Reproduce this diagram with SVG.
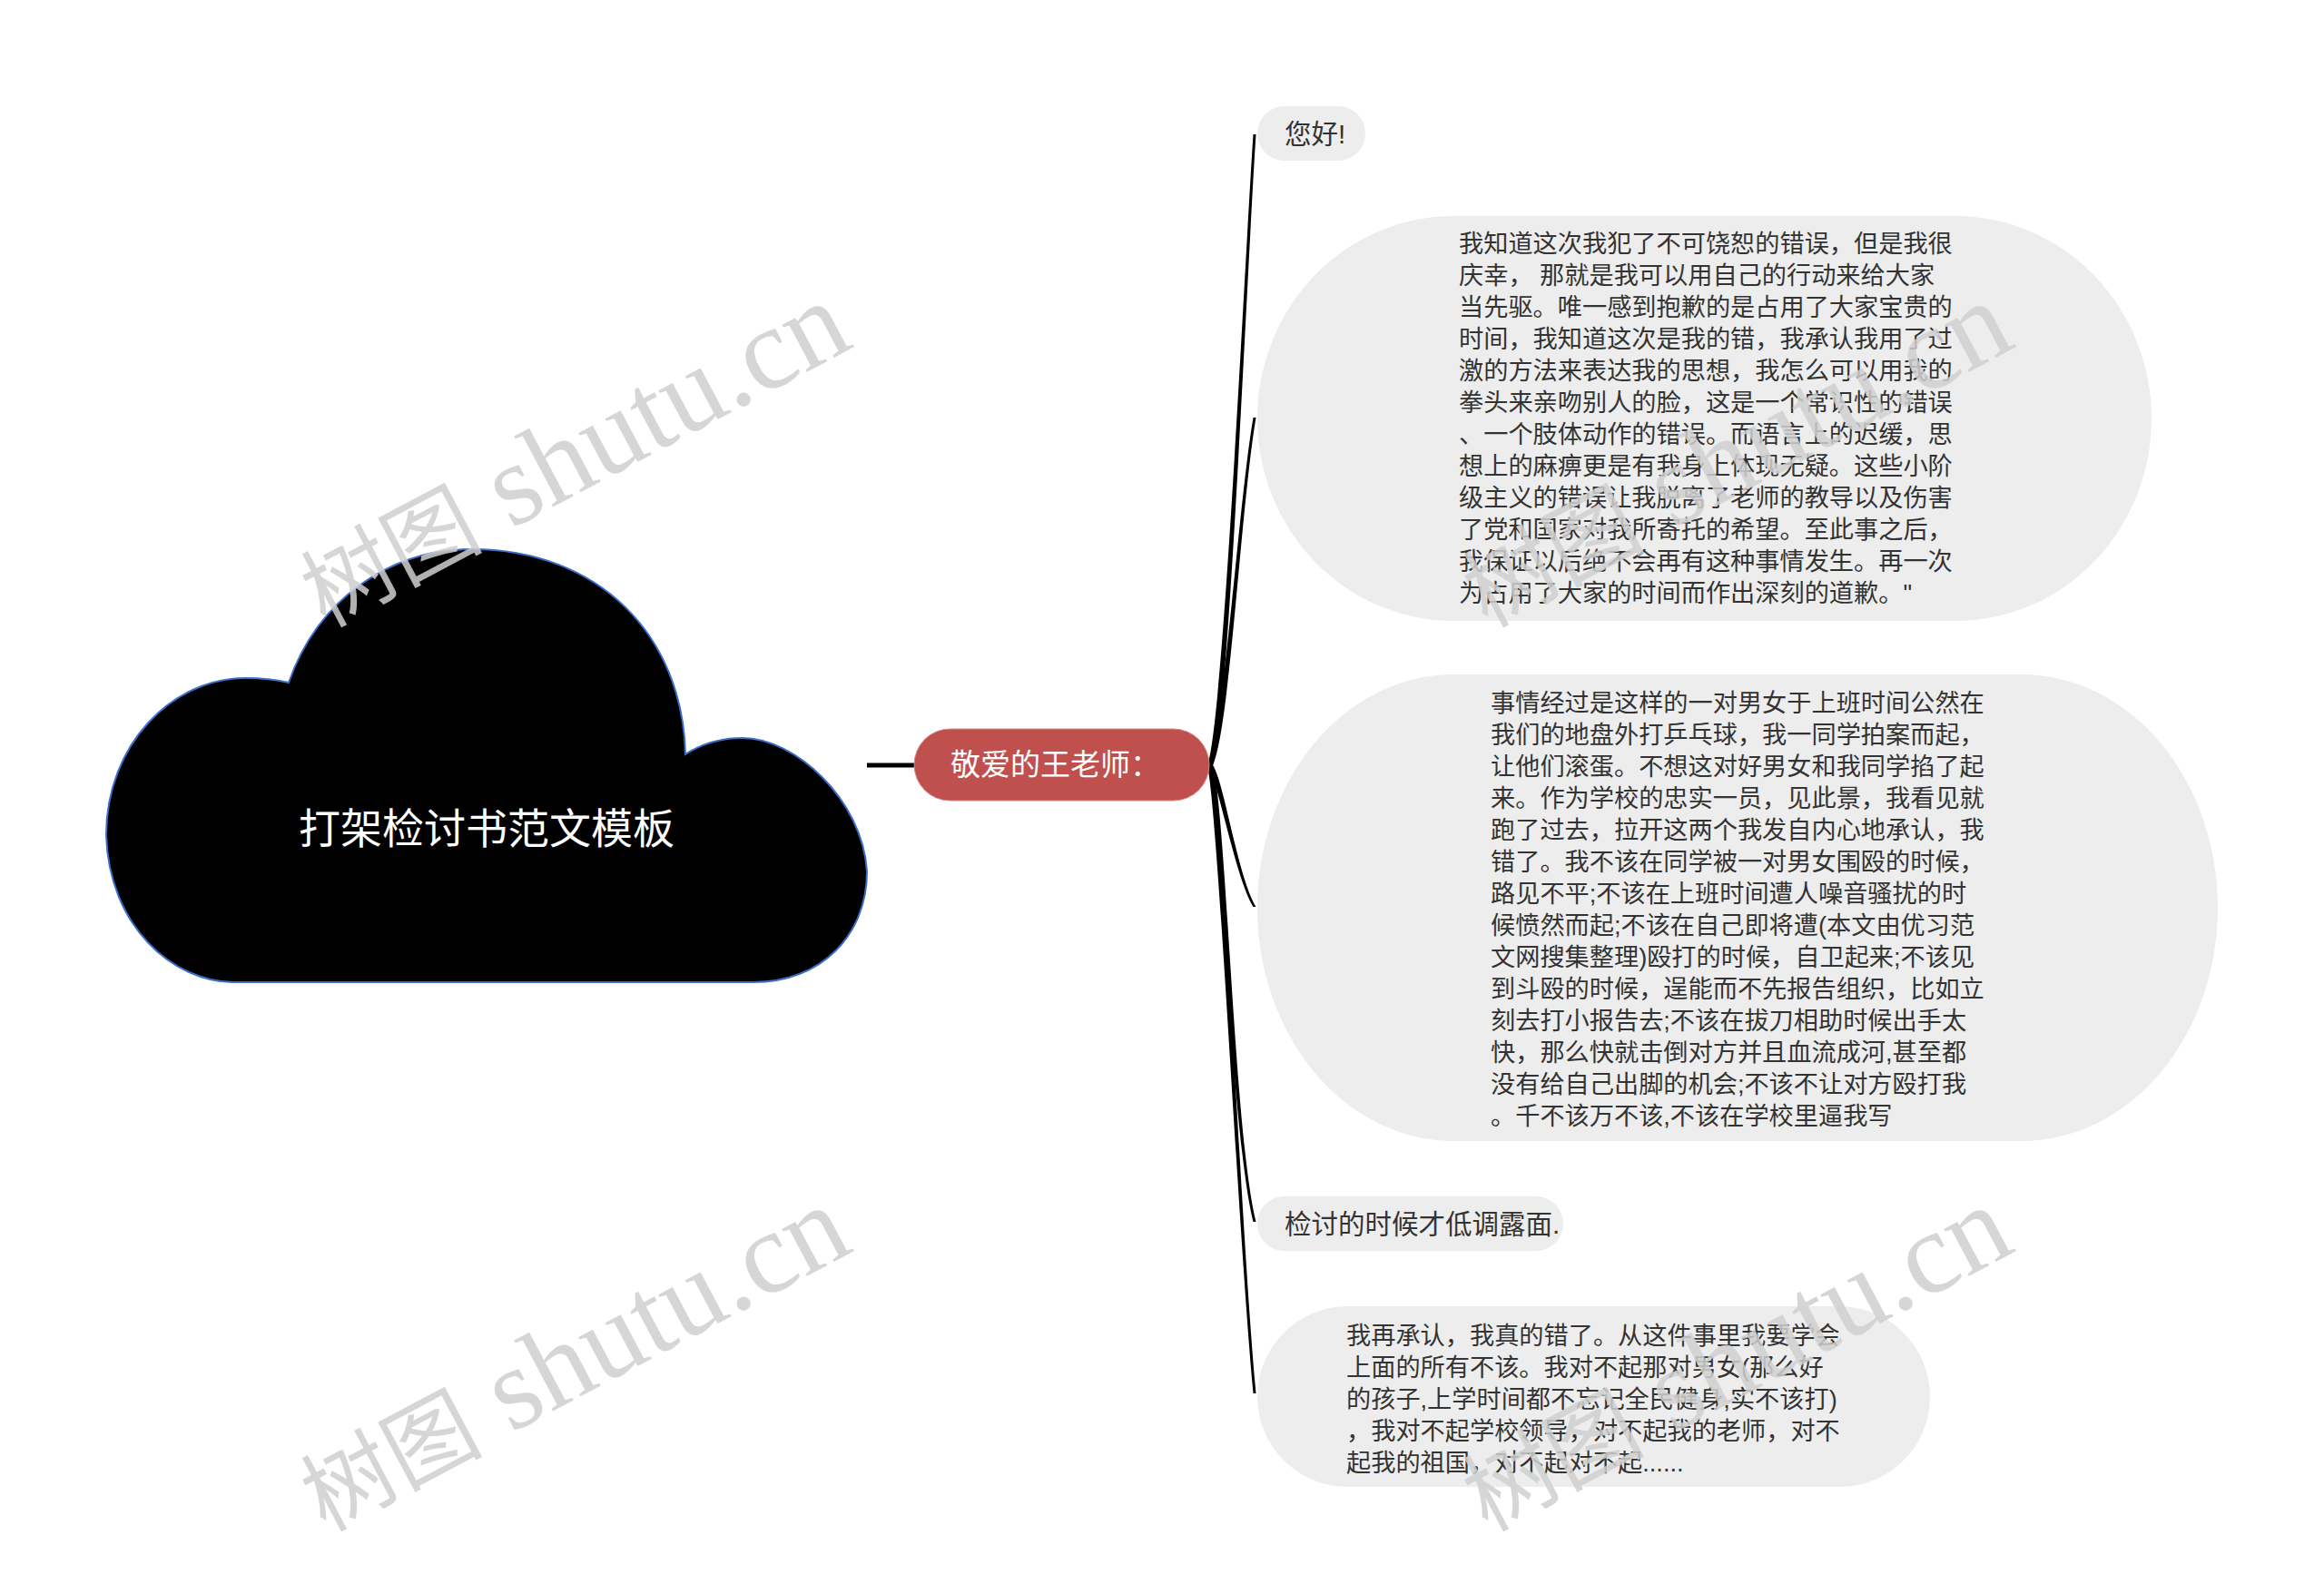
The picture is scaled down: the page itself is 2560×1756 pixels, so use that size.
<svg xmlns="http://www.w3.org/2000/svg" width="2560" height="1756" viewBox="0 0 2560 1756">
<style>
.bg{fill:#ffffff}
.bubble{fill:#ededed}
.txt{font-family:'Liberation Sans','Noto Sans CJK SC',sans-serif;fill:#333333}
.long{font-size:27.2px}
.short{font-size:29.5px}
.conn{fill:#000000}
.wm{font-family:'Liberation Serif','Noto Sans CJK SC',serif;font-size:128px;fill:#d0d0d0;opacity:0.85}
.wmcjk{font-size:100px}
</style>
<rect class="bg" x="0" y="0" width="2560" height="1756"/>
<g id="connectors">
  <path d="M955 843 L1008 843" stroke="#000" stroke-width="5" fill="none"/>
  <path class="conn" d="M1330 843 C1347 800 1370.5 300 1380.5 148 L1383.5 148 C1373.5 300 1353 800 1336 843 Z"/>
  <path class="conn" d="M1330 843 C1349 800 1363.5 560 1380.5 460 L1383.5 460 C1366.5 560 1355 800 1336 843 Z"/>
  <path class="conn" d="M1330 843 C1342 860 1360.5 965 1380.5 999 L1383.5 999 C1363.5 965 1348 860 1336 843 Z"/>
  <path class="conn" d="M1330 843 C1345 900 1356.5 1250 1380.5 1346 L1383.5 1346 C1359.5 1250 1351 900 1336 843 Z"/>
  <path class="conn" d="M1330 843 C1342 900 1363.5 1350 1380.5 1535 L1383.5 1535 C1366.5 1350 1348 900 1336 843 Z"/>
</g>
<g id="root">
  <path d="M258 1082 C190 1082 120 1020 117 920 C117 820 190 747 270 747 C290 747 305 749 318 752 C350 660 430 605 519 605 C660 605 752 700 755 831 C775 818 795 813 818 813 C875 813 950 880 955 960 C955 1030 905 1082 830 1082 Z" fill="#000000" stroke="#3c6ec8" stroke-width="2"/>
  <text x="536" y="929" text-anchor="middle" font-family="'Liberation Sans','Noto Sans CJK SC',sans-serif" font-size="46" fill="#ffffff">打架检讨书范文模板</text>
</g>
<g id="main-topic">
  <rect x="1007" y="803" width="325" height="79" rx="39.5" ry="39.5" fill="#c0504d" stroke="#d38a88" stroke-width="1"/>
  <text x="1047" y="854" font-family="'Liberation Sans','Noto Sans CJK SC',sans-serif" font-size="33" fill="#ffffff">敬爱的王老师：</text>
</g>
<g id="node-hello">
  <rect class="bubble" x="1385" y="117" width="119" height="60" rx="30" ry="30"/>
  <text class="txt short" x="1415" y="158">您好!</text>
</g>
<g id="node-apology">
  <rect class="bubble" x="1385" y="238" width="985" height="446" rx="216" ry="223"/>
  <text class="txt long">
    <tspan x="1607" y="278">我知道这次我犯了不可饶恕的错误，但是我很</tspan>
    <tspan x="1607" y="313">庆幸， 那就是我可以用自己的行动来给大家</tspan>
    <tspan x="1607" y="348">当先驱。唯一感到抱歉的是占用了大家宝贵的</tspan>
    <tspan x="1607" y="383">时间，我知道这次是我的错，我承认我用了过</tspan>
    <tspan x="1607" y="418">激的方法来表达我的思想，我怎么可以用我的</tspan>
    <tspan x="1607" y="453">拳头来亲吻别人的脸，这是一个常识性的错误</tspan>
    <tspan x="1607" y="488">、一个肢体动作的错误。而语言上的迟缓，思</tspan>
    <tspan x="1607" y="523">想上的麻痹更是有我身上体现无疑。这些小阶</tspan>
    <tspan x="1607" y="558">级主义的错误让我脱离了老师的教导以及伤害</tspan>
    <tspan x="1607" y="593">了党和国家对我所寄托的希望。至此事之后，</tspan>
    <tspan x="1607" y="628">我保证以后绝不会再有这种事情发生。再一次</tspan>
    <tspan x="1607" y="663">为占用了大家的时间而作出深刻的道歉。"</tspan>
  </text>
</g>
<g id="node-story">
  <rect class="bubble" x="1385" y="743" width="1058" height="514" rx="216" ry="257"/>
  <text class="txt long">
    <tspan x="1642" y="784">事情经过是这样的一对男女于上班时间公然在</tspan>
    <tspan x="1642" y="819">我们的地盘外打乒乓球，我一同学拍案而起，</tspan>
    <tspan x="1642" y="854">让他们滚蛋。不想这对好男女和我同学掐了起</tspan>
    <tspan x="1642" y="889">来。作为学校的忠实一员，见此景，我看见就</tspan>
    <tspan x="1642" y="924">跑了过去，拉开这两个我发自内心地承认，我</tspan>
    <tspan x="1642" y="959">错了。我不该在同学被一对男女围殴的时候，</tspan>
    <tspan x="1642" y="994">路见不平;不该在上班时间遭人噪音骚扰的时</tspan>
    <tspan x="1642" y="1029">候愤然而起;不该在自己即将遭(本文由优习范</tspan>
    <tspan x="1642" y="1064">文网搜集整理)殴打的时候，自卫起来;不该见</tspan>
    <tspan x="1642" y="1099">到斗殴的时候，逞能而不先报告组织，比如立</tspan>
    <tspan x="1642" y="1134">刻去打小报告去;不该在拔刀相助时候出手太</tspan>
    <tspan x="1642" y="1169">快，那么快就击倒对方并且血流成河,甚至都</tspan>
    <tspan x="1642" y="1204">没有给自己出脚的机会;不该不让对方殴打我</tspan>
    <tspan x="1642" y="1239">。千不该万不该,不该在学校里逼我写</tspan>
  </text>
</g>
<g id="node-lowkey">
  <rect class="bubble" x="1385" y="1318" width="337" height="60" rx="30" ry="30"/>
  <text class="txt short" x="1415" y="1359">检讨的时候才低调露面.</text>
</g>
<g id="node-sorry">
  <rect class="bubble" x="1385" y="1439" width="741" height="199" rx="99.5" ry="99.5"/>
  <text class="txt long">
    <tspan x="1483" y="1481">我再承认，我真的错了。从这件事里我要学会</tspan>
    <tspan x="1483" y="1516">上面的所有不该。我对不起那对男女(那么好</tspan>
    <tspan x="1483" y="1551">的孩子,上学时间都不忘记全民健身,实不该打)</tspan>
    <tspan x="1483" y="1586">，我对不起学校领导，对不起我的老师，对不</tspan>
    <tspan x="1483" y="1621">起我的祖国，对不起对不起......</tspan>
  </text>
</g>
<g id="watermarks">
  <text class="wm" transform="translate(358 692) rotate(-28)"><tspan class="wmcjk">树图</tspan> shutu.cn</text>
  <text class="wm" transform="translate(358 1688) rotate(-28)"><tspan class="wmcjk">树图</tspan> shutu.cn</text>
  <text class="wm" transform="translate(1638 692) rotate(-28)"><tspan class="wmcjk">树图</tspan> shutu.cn</text>
  <text class="wm" transform="translate(1638 1688) rotate(-28)"><tspan class="wmcjk">树图</tspan> shutu.cn</text>
</g>
</svg>
